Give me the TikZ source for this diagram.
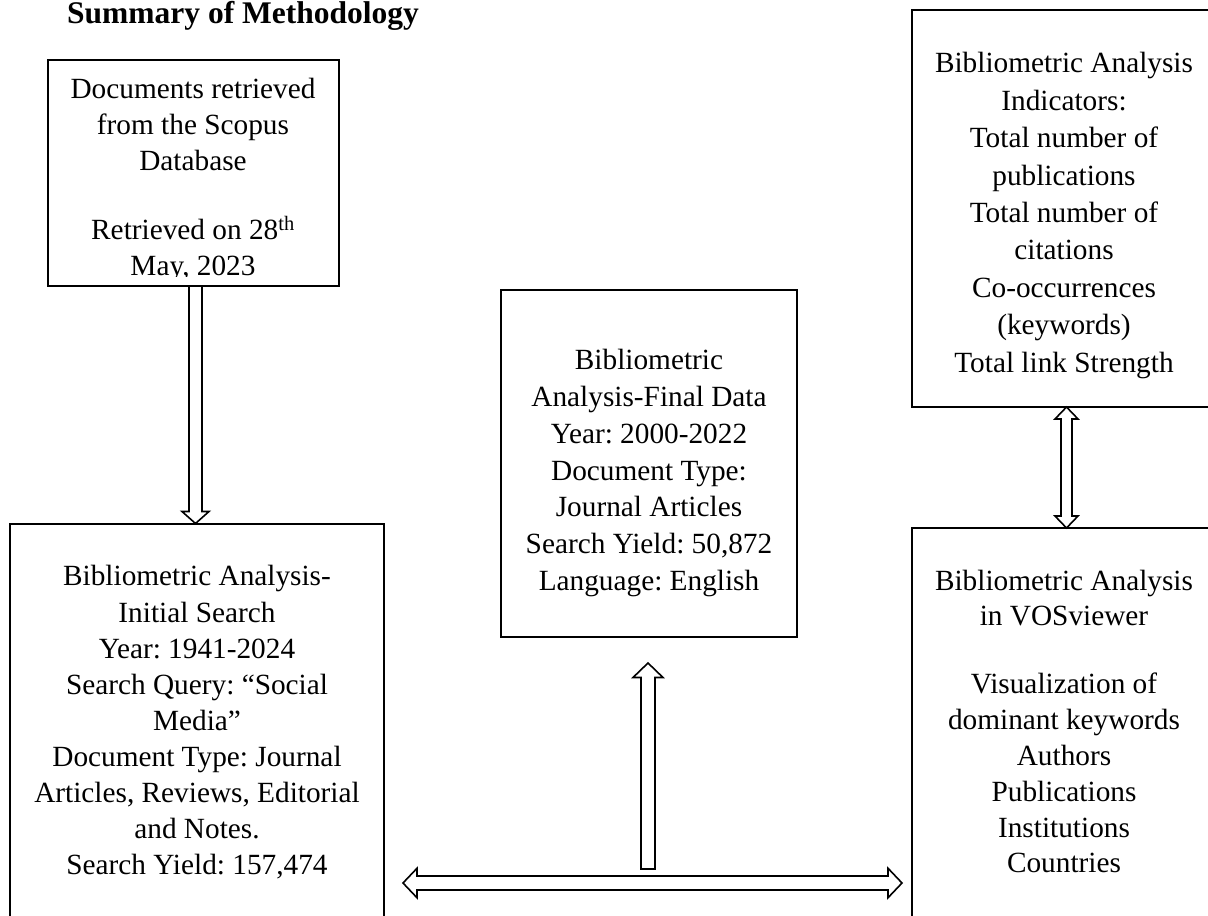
\documentclass[tikz,border=0pt]{standalone}
\usepackage{fontspec}
\setmainfont{Liberation Serif}
\usetikzlibrary{calc}
\frenchspacing
\tikzset{
  box/.style={draw, line width=2pt, inner sep=0pt, outer sep=0pt, anchor=north west},
  txt/.style={font=\fontsize{29.3}{#1}\selectfont\frenchspacing, align=center, inner sep=0pt, outer sep=0pt, anchor=north},
  blk/.style={draw, fill=white, line width=1.6pt, line join=miter},
}
\begin{document}
\begin{tikzpicture}[x=1pt,y=-1pt]
\useasboundingbox (0,0) rectangle (1208,916);
\fill[white] (0,0) rectangle (1208,916);
\clip (0,0) rectangle (1208,916);

% title
\node[font=\fontsize{31.5}{36}\selectfont\bfseries, anchor=base west, inner sep=0pt] (title) at (67,23) {Summary of Methodology};

% boxes
\node[box, minimum width=291pt, minimum height=226pt] (A) at (48,60) {};
\node[box, minimum width=374pt, minimum height=420pt] (B) at (10,523.5) {};
\node[box, minimum width=296pt, minimum height=347pt] (C) at (501,290) {};
\node[box, minimum width=308pt, minimum height=397.5pt] (D) at (912,9.5) {};
\node[box, minimum width=308pt, minimum height=420pt] (E) at (912,528) {};

% texts
\begin{scope}
\clip (A.north west) rectangle ($(A.south east)+(0,-10)$);
\node[txt=36.3] (tA) at (193,72.9) {\strut Documents retrieved\\ from the Scopus\\ Database\\[32pt] Retrieved on 28\textsuperscript{th}\\ May, 2023};
\end{scope}
\node[txt=36.1] (tB) at (197,560.7) {\strut Bibliometric Analysis-\\ Initial Search\\ Year: 1941-2024\\ Search Query: “Social\\ Media”\\ Document Type: Journal\\ Articles, Reviews, Editorial\\ and Notes.\\ Search Yield: 157,474};
\node[txt=36.7] (tC) at (649,344.3) {\strut Bibliometric\\ Analysis-Final Data\\ Year: 2000-2022\\ Document Type:\\ Journal Articles\\ Search Yield: 50,872\\ Language: English};
\node[txt=37.4] (tD) at (1064,46.8) {\strut Bibliometric Analysis\\ Indicators:\\ Total number of\\ publications\\ Total number of\\ citations\\ Co-occurrences\\ (keywords)\\ Total link Strength};
\node[txt=35.8] (tE) at (1064,565) {\strut Bibliometric Analysis\\ in VOSviewer\\[32.2pt] Visualization of\\ dominant keywords\\ Authors\\ Publications\\ Institutions\\ Countries};

% arrow A -> B (down)
\coordinate (a1s) at ($(A.south)+(2,0)$);
\coordinate (a1t) at (a1s |- B.north);
\draw[blk] ($(a1s)+(-6.5,0)$) -- ($(a1t)+(-6.5,-12)$) -- ($(a1t)+(-13.5,-12)$) -- (a1t)
  -- ($(a1t)+(13.5,-12)$) -- ($(a1t)+(6.5,-12)$) -- ($(a1s)+(6.5,0)$) -- cycle;

% arrow up towards C
\coordinate (a2t) at ($(C.south)+(-1,26)$);
\coordinate (a2s) at ($(a2t)+(0,206)$);
\draw[blk] ($(a2s)+(-7,0)$) -- ($(a2t)+(-7,14.5)$) -- ($(a2t)+(-15,14.5)$) -- (a2t)
  -- ($(a2t)+(15,14.5)$) -- ($(a2t)+(7,14.5)$) -- ($(a2s)+(7,0)$) -- cycle;

% horizontal double arrow between B and E
\coordinate (hl) at ($(B.east |- 0,883)+(19,0)$);
\coordinate (hr) at ($(E.west |- 0,883)+(-10,0)$);
\draw[blk] (hl) -- ($(hl)+(14,-14.75)$) -- ($(hl)+(14,-7)$) -- ($(hr)+(-14,-7)$) -- ($(hr)+(-14,-14.75)$)
  -- (hr) -- ($(hr)+(-14,14.75)$) -- ($(hr)+(-14,7)$) -- ($(hl)+(14,7)$) -- ($(hl)+(14,14.75)$) -- cycle;

% double arrow D <-> E
\coordinate (a4t) at ($(D.south)+(0.5,0)$);
\coordinate (a4b) at (a4t |- E.north);
\draw[blk] (a4t) -- ($(a4t)+(11.5,12)$) -- ($(a4t)+(5.5,12)$) -- ($(a4b)+(5.5,-12)$) -- ($(a4b)+(11.5,-12)$)
  -- (a4b) -- ($(a4b)+(-11.5,-12)$) -- ($(a4b)+(-5.5,-12)$) -- ($(a4t)+(-5.5,12)$) -- ($(a4t)+(-11.5,12)$) -- cycle;
\end{tikzpicture}
\end{document}
